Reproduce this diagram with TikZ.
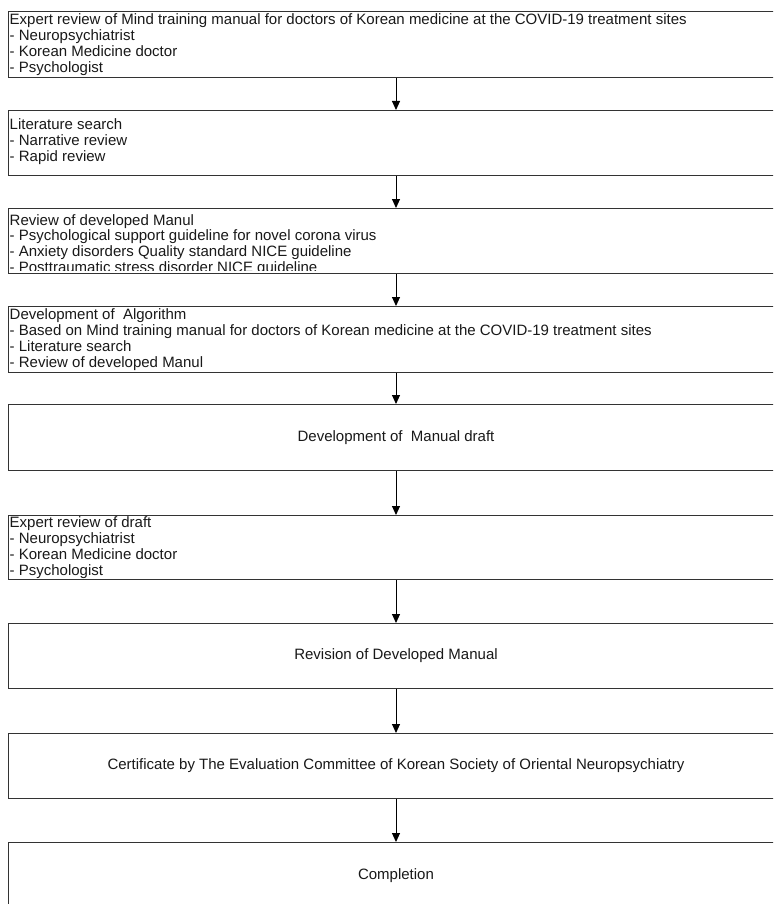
\documentclass[tikz,border=0pt]{standalone}
\usepackage{fontspec}
\setmainfont{Liberation Sans}
\usetikzlibrary{arrows.meta}
\begin{document}
\begin{tikzpicture}[x=1pt,y=-1pt,
  box/.style={draw=black!80, fill=white, line width=1pt, minimum width=776pt, inner sep=0pt, anchor=north},
  ltext/.style={anchor=west, align=left, inner sep=0pt, text=black!90, font=\fontsize{15}{15.8}\selectfont},
  ctext/.style={inner sep=0pt, text=black!90, font=\fontsize{15}{15.8}\selectfont},
  flow/.style={-{Triangle[length=9pt,width=8pt]}, line width=1pt, draw=black}]
\useasboundingbox (0,0) rectangle (773,904);
\fill[white] (0,0) rectangle (773,904);
\clip (0,0) rectangle (773,904);
\node[box, minimum height=66pt] (b1) at (396,11) {};
\node[box, minimum height=65pt] (b2) at (396,110) {};
\node[box, minimum height=65pt] (b3) at (396,208) {};
\node[box, minimum height=66pt] (b4) at (396,306) {};
\node[box, minimum height=66pt] (b5) at (396,404) {};
\node[box, minimum height=64pt] (b6) at (396,515) {};
\node[box, minimum height=65pt] (b7) at (396,623) {};
\node[box, minimum height=65pt] (b8) at (396,733) {};
\node[box, minimum height=80pt] (b9) at (396,842) {};

\node[ltext] (t1) at ([xshift=2pt]b1.west) {Expert review of Mind training manual for doctors of Korean medicine at the COVID-19 treatment sites\\- Neuropsychiatrist\\- Korean Medicine doctor\\- Psychologist};
\node[ltext] (t2) at ([xshift=2pt,yshift=1.5pt]b2.west) {Literature search\\- Narrative review\\- Rapid review};
\begin{scope}
\clip ([xshift=0.5pt,yshift=-0.5pt]b3.north west) rectangle ([xshift=-0.5pt,yshift=3.5pt]b3.south east);
\node[ltext] (t3) at ([xshift=2pt,yshift=-4pt]b3.west) {Review of developed Manul\\- Psychological support guideline for novel corona virus\\- Anxiety disorders Quality standard NICE guideline\\- Posttraumatic stress disorder NICE guideline};
\end{scope}
\node[ltext] (t4) at ([xshift=2pt]b4.west) {Development of\ \ Algorithm\\- Based on Mind training manual for doctors of Korean medicine at the COVID-19 treatment sites\\- Literature search\\- Review of developed Manul};
\node[ctext] (t5) at (b5.center) {Development of\ \ Manual draft};
\node[ltext] (t6) at ([xshift=2pt]b6.west) {Expert review of draft\\- Neuropsychiatrist\\- Korean Medicine doctor\\- Psychologist};
\node[ctext] (t7) at (b7.center) {Revision of Developed Manual};
\node[ctext] (t8) at (b8.center) {Certificate by The Evaluation Committee of Korean Society of Oriental Neuropsychiatry};
\node[ctext] (t9) at ([yshift=7pt]b9.center) {Completion};

\draw[flow] (b1.south) -- (b2.north);
\draw[flow] (b2.south) -- (b3.north);
\draw[flow] (b3.south) -- (b4.north);
\draw[flow] (b4.south) -- (b5.north);
\draw[flow] (b5.south) -- (b6.north);
\draw[flow] (b6.south) -- (b7.north);
\draw[flow] (b7.south) -- (b8.north);
\draw[flow] (b8.south) -- (b9.north);
\end{tikzpicture}
\end{document}
